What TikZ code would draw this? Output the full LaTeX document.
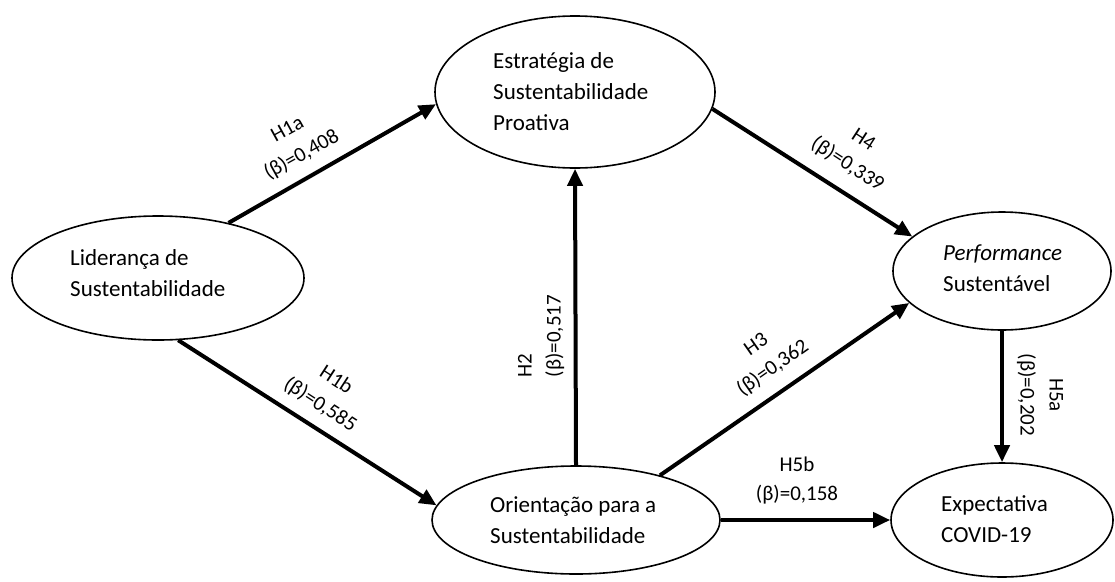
\documentclass[tikz,border=0pt]{standalone}
\usepackage{fontspec}
\setmainfont{Carlito}
\usepackage{tikz}
\usetikzlibrary{shapes.geometric, arrows.meta}
\tikzset{
    construct/.style = {draw, ellipse, line width=1.6pt, inner sep=0pt},
    construct-text/.style = {align=left, inner sep=0pt, anchor=west, font=\fontsize{23}{31}\selectfont},
    path-arrow/.style = {line width=4pt, -{Triangle[length=17pt, width=15pt]}},
    path-label/.style = {align=center, inner sep=0pt, font=\fontsize{21}{29}\selectfont},
}

\begin{document}
\begin{tikzpicture}[x=1pt, y=-1pt]
\useasboundingbox (0,0) rectangle (1115,581);

\node [construct, minimum width=292pt, minimum height=124pt] (lid) at (158,278) {};
\node [construct, minimum width=280pt, minimum height=152pt] (est) at (575,92) {};
\node [construct, minimum width=218pt, minimum height=118pt] (perf) at (1002,271) {};
\node [construct, minimum width=288pt, minimum height=108pt] (ori) at (576,520) {};
\node [construct, minimum width=222pt, minimum height=114pt] (expc) at (1002,520) {};

\node [construct-text] (lid-text) at (70,273) {Liderança de\\Sustentabilidade};
\node [construct-text] (est-text) at (493,92) {Estratégia de\\Sustentabilidade\\Proativa};
\node [construct-text] (perf-text) at (943,268) {\textit{Performance}\\Sustentável};
\node [construct-text] (ori-text) at (490,520) {Orientação para a\\Sustentabilidade};
\node [construct-text] (expc-text) at (941,519) {Expectativa\\COVID-19};

\draw [path-arrow] (lid.38) -- (est.185);
\draw [path-arrow] (lid.-72) -- (ori.174);
\draw [path-arrow] (ori.north) -- (est.south);
\draw [path-arrow] (est.-7) -- (perf.159);
\draw [path-arrow] (ori.28) -- (perf.199);
\draw [path-arrow] (perf.south) -- (expc.north);
\draw [path-arrow] (ori.east) -- (expc.west);

\node [path-label, rotate=29] (h1a) at (295,143) {H1a\\(β)=0,408};
\node [path-label, rotate=-33] (h1b) at (328,393) {H1b\\(β)=0,585};
\node [path-label, rotate=90, align=left] (h2) at (541,336) {H2\\(β)=0,517};
\node [path-label, rotate=35] (h3) at (765,357) {H3\\(β)=0,362};
\node [path-label, rotate=-33] (h4) at (855,153) {H4\\(β)=0,339};
\node [path-label, rotate=-90] (h5a) at (1040,395) {H5a\\(β)=0,202};
\node [path-label] (h5b) at (797,481) {H5b\\(β)=0,158};
\end{tikzpicture}
\end{document}
